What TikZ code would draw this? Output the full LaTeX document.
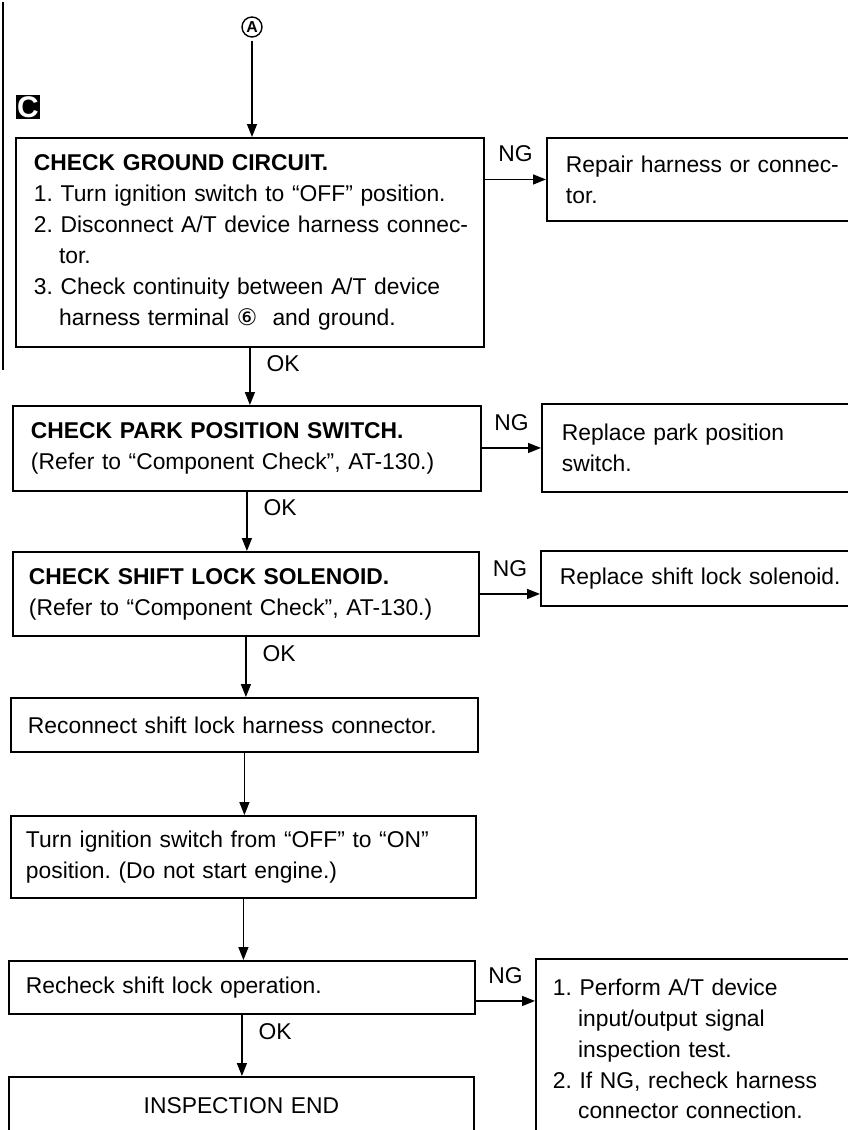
\documentclass[tikz,border=0pt]{standalone}
\usepackage{fontspec}
\setmainfont{Liberation Sans}
\newfontfamily\symfont{DejaVu Sans}
\usetikzlibrary{arrows.meta}
\usetikzlibrary{positioning}
\frenchspacing

\tikzset{
  box/.style={rectangle, draw=black, line width=1.1pt, anchor=north west, inner ysep=0pt, align=left, font=\fontsize{13}{17.6}\selectfont},
  flow/.style={-{Triangle[length=0.26cm,width=0.2cm]}, line width=0.8pt},
  tag/.style={font=\fontsize{13}{15}\selectfont, inner sep=2pt},
}

\begin{document}
\begin{tikzpicture}[x=0.02cm, y=-0.02cm]
    \useasboundingbox (0,0) rectangle (848,1130);

    \draw [line width=1pt] (3,2) -- (3,370);
    \node [circle, draw=black, line width=0.8pt, minimum size=0.4cm, inner sep=0pt, font=\fontsize{9}{9}\selectfont\bfseries] (A) at (252,27) {A};
    \node [rectangle, fill=black, text=white, minimum size=0.48cm, inner sep=0pt, font=\fontsize{17}{17}\selectfont\bfseries] (sec) at (28,107) {C};

    \node [box, minimum width=9.36cm, minimum height=4.18cm, text width=8.64cm, inner xsep=0.36cm] (ground) at (15,137) {\textbf{CHECK GROUND CIRCUIT.}\\
        1. Turn ignition switch to “OFF” position.\\
        \mbox{2. Disconnect A/T device harness connec-}\\
        \hspace*{1.1em}tor.\\
        3. Check continuity between A/T device\\
        \hspace*{1.1em}harness terminal {\symfont ⑥}\ \ and ground.};
    \node [box, minimum width=6.8cm, minimum height=1.66cm, text width=6.04cm, inner xsep=0.38cm] (repair) at (546,137) {Repair harness or connec-\\ tor.};
    \node [box, minimum width=9.36cm, minimum height=1.70cm, text width=8.64cm, inner xsep=0.36cm] (park) at (12,405) {\textbf{CHECK PARK POSITION SWITCH.}\\ (Refer to “Component Check”, AT-130.)};
    \node [box, minimum width=6.8cm, minimum height=1.76cm, text width=6.0cm, inner xsep=0.4cm] (replpark) at (541,403) {Replace park position\\ switch.};
    \node [box, minimum width=9.32cm, minimum height=1.68cm, text width=8.68cm, inner xsep=0.32cm] (solenoid) at (12,551) {\textbf{CHECK SHIFT LOCK SOLENOID.}\\ (Refer to “Component Check”, AT-130.)};
    \node [box, minimum width=6.8cm, minimum height=1.10cm, text width=6.04cm, inner xsep=0.38cm] (replsol) at (540,550) {Replace shift lock solenoid.};
    \node [box, minimum width=9.34cm, minimum height=1.08cm, text width=8.66cm, inner xsep=0.34cm] (reconnect) at (10,697) {Reconnect shift lock harness connector.};
    \node [box, minimum width=9.30cm, minimum height=1.64cm, text width=8.70cm, inner xsep=0.30cm] (turnon) at (10,815) {Turn ignition switch from “OFF” to “ON”\\ position. (Do not start engine.)};
    \node [box, minimum width=9.32cm, minimum height=1.06cm, text width=8.64cm, inner xsep=0.34cm] (recheck) at (8,960) {Recheck shift lock operation.};
    \node [box, minimum width=6.8cm, minimum height=3.6cm, text width=6.12cm, inner xsep=0.34cm] (perform) at (535,958) {1. Perform A/T device\\
        \hspace*{1.1em}input/output signal\\
        \hspace*{1.1em}inspection test.\\
        2. If NG, recheck harness\\
        \hspace*{1.1em}connector connection.};
    \node [box, align=center, minimum width=9.30cm, minimum height=1.16cm, text width=8.70cm, inner xsep=0.30cm] (inspend) at (8,1076) {INSPECTION END};

    % main line
    \draw [flow, shorten <=0.06cm] (A.south) -- (A |- ground.north);
    \draw [flow] (ground.south) -- node [tag, pos=0.27, right=0.25cm] {OK} (ground.south |- park.north);
    \draw [flow] (park.south) -- node [tag, pos=0.27, right=0.25cm] {OK} (park.south |- solenoid.north);
    \draw [flow] (solenoid.south) -- node [tag, pos=0.27, right=0.25cm] {OK} (solenoid.south |- reconnect.north);
    \draw [flow] (reconnect.south) -- (reconnect.south |- turnon.north);
    \draw [flow] (turnon.south) -- (turnon.south |- recheck.north);
    \draw [flow] (recheck.south) -- node [tag, pos=0.27, right=0.25cm] {OK} (recheck.south |- inspend.north);

    % NG branches
    \draw [flow] (ground.east |- repair.west) -- node [tag, above=0.27cm] {NG} (repair.west);
    \draw [flow] (park.east |- replpark.west) -- node [tag, above=0.27cm] {NG} (replpark.west);
    \draw [flow] (solenoid.east) -- node [tag, above=0.27cm] {NG} (solenoid.east -| replsol.west);
    \draw [flow] ([yshift=-0.27cm]recheck.east) -- node [tag, above=0.27cm] {NG} ([yshift=-0.27cm]recheck.east -| perform.west);
\end{tikzpicture}
\end{document}
